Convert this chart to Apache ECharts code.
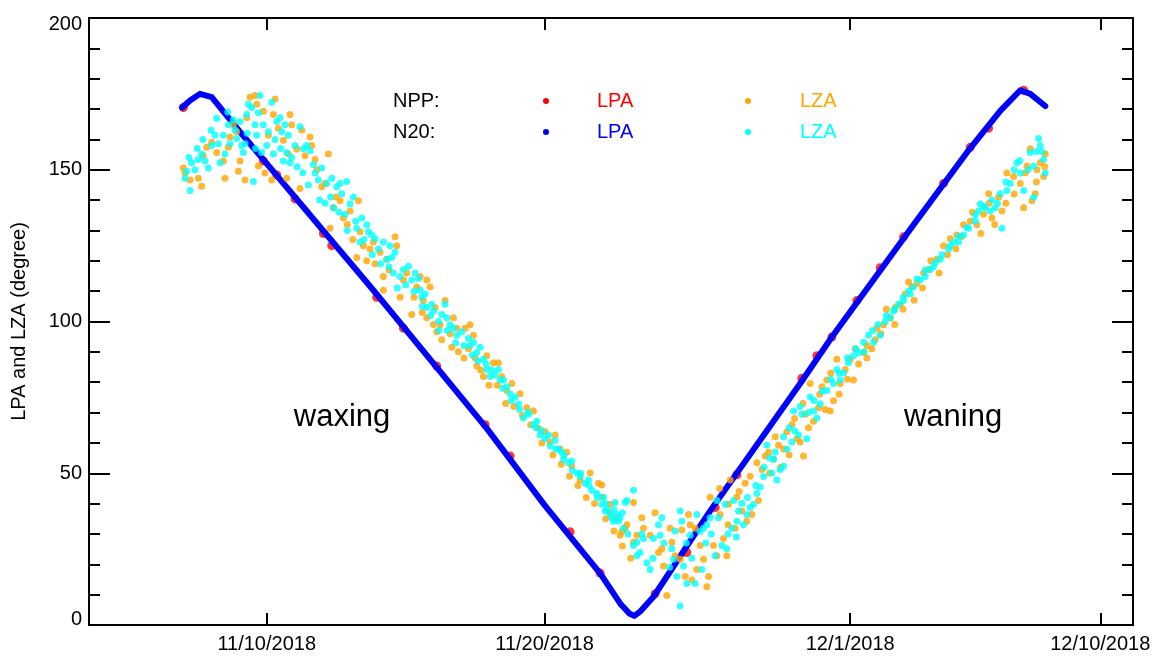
<!DOCTYPE html>
<html>
<head>
<meta charset="utf-8">
<script src="https://cdn.jsdelivr.net/npm/echarts@6/dist/echarts.min.js"></script>
<style>
html,body{margin:0;padding:0;background:#fff;}
#chart{width:1161px;height:656px;}
</style>
</head>
<body>
<div id="chart"></div>
<script>
// x values: days counted from 10/31/2018 00:00 (so 10 = 11/10/2018, 31 = 12/1/2018)
const xTickDays = [10, 20, 31, 40];
const xTickLabels = ['11/10/2018', '11/20/2018', '12/1/2018', '12/10/2018'];
const xRange = [3.605, 41.177];
const yRange = [0, 200];
const yStep = 50;
const yTitle = 'LPA and LZA (degree)';

// N20 lunar phase angle (dense track)
const n20LPA = [[6.96,170.5],[7.24,172.8],[7.6,175.0],[8.02,173.9],[8.38,169.9],[9.04,162.5],[13.84,110.3],[17.92,64.8],[20.0,39.5],[22.0,17.0],[22.72,7.1],[23.05,3.8],[23.23,3.0],[23.45,4.5],[23.92,9.3],[25.96,37.6],[29.2,79.6],[30.34,94.9],[33.28,131.9],[35.2,155.7],[36.4,169.4],[37.12,176.2],[37.48,175.0],[38.02,171.0]];

// NPP lunar phase angle
const nppLPA = [[7.0,170.5],[9.88,152.9],[10.36,148.3],[11.02,140.4],[12.04,129.0],[12.34,125.0],[13.96,108.0],[14.92,97.8],[16.12,85.3],[17.86,66.0],[18.76,55.7],[20.92,30.7],[22.0,17.1],[23.98,10.3],[25.12,23.9],[26.14,38.7],[26.92,49.5],[29.26,81.3],[29.8,88.7],[30.34,94.9],[31.24,106.9],[32.08,117.7],[32.92,127.9],[34.36,145.5],[35.32,157.4],[35.98,163.7],[37.24,176.2]];

// NPP lunar zenith angle
const nppLZA = [[7.00,150.6],[7.06,148.9],[7.24,146.6],[7.54,147.2],[7.66,144.6],[7.72,154.6],[7.84,157.4],[8.02,159.1],[8.20,155.7],[8.44,152.9],[8.50,147.2],[8.62,157.4],[8.68,160.8],[8.80,164.8],[8.92,162.5],[8.98,149.5],[9.04,152.9],[9.22,146.6],[9.28,167.1],[9.40,173.9],[9.58,174.5],[9.64,171.6],[9.70,151.2],[9.88,169.3],[9.94,148.9],[10.06,161.4],[10.18,146.6],[10.24,168.2],[10.30,173.3],[10.42,163.7],[10.60,159.7],[10.72,147.2],[10.78,155.2],[10.84,168.2],[10.90,164.8],[11.08,156.8],[11.20,143.8],[11.26,163.1],[11.38,154.6],[11.56,160.8],[11.62,158.0],[11.74,153.4],[11.80,150.0],[11.98,144.4],[12.10,145.5],[12.22,155.2],[12.28,130.7],[12.40,137.5],[12.64,139.8],[12.76,134.1],[13.00,136.4],[13.24,121.1],[13.30,139.8],[13.36,129.6],[13.48,125.0],[13.72,123.9],[13.84,126.2],[14.08,122.8],[14.20,114.8],[14.20,110.3],[14.32,120.5],[14.62,127.9],[14.68,125.0],[14.92,113.7],[15.04,116.0],[15.22,102.3],[15.40,111.4],[15.52,114.8],[15.64,106.9],[15.76,113.7],[15.76,101.2],[15.88,111.4],[16.06,104.6],[16.12,96.6],[16.24,98.9],[16.42,106.9],[16.66,91.5],[16.72,101.2],[16.84,97.8],[17.14,97.8],[17.26,91.0],[17.32,98.9],[17.44,95.5],[17.56,85.3],[17.80,81.9],[17.92,88.7],[18.16,86.4],[18.34,86.4],[18.46,81.9],[18.64,77.3],[18.82,79.6],[19.12,76.2],[19.36,71.6],[19.60,70.5],[19.78,64.8],[20.02,63.7],[20.20,60.3],[20.38,62.6],[20.56,58.0],[20.80,56.9],[20.98,52.3],[21.28,47.8],[21.64,50.1],[21.94,46.7],[22.06,42.1],[22.36,39.8],[22.60,35.3],[22.78,30.8],[22.96,33.0],[23.20,27.3],[23.32,29.6],
[12.5,141],[12.9,132],[13.1,127],[13.6,120],[13.9,119],[14.4,117],[14.8,108],[15.3,108],[15.6,103],[16.0,99],[16.3,94],[16.6,96],[16.9,90],[17.1,88],[17.5,88],[17.7,84],[18.0,79],[18.3,79],[18.6,73],[18.9,72],[19.2,69],[19.5,66],[19.9,60],[20.3,56],[20.6,53],[20.9,49],[21.2,46],[21.5,42],[21.8,40],[22.2,35],[22.5,31],[22.8,26],[23.1,22],
[22.06,46.1],[22.36,37.0],[22.72,29.6],[22.90,31.9],[23.20,40.4],[23.50,35.3],[23.56,31.9],[23.80,29.6],[23.98,37.0],[24.10,23.9],[24.22,25.1],[24.28,19.4],[24.40,9.7],[24.52,31.9],[24.58,27.3],[24.70,22.8],[24.88,21.7],[24.94,31.3],[25.06,16.0],[25.18,36.4],[25.24,33.0],[25.30,14.8],[25.42,31.9],[25.48,18.3],[25.60,26.2],[25.72,21.7],[25.84,12.6],[25.90,16.0],[25.96,42.1],[26.08,26.2],[26.20,22.8],[26.32,36.4],[26.44,28.5],[26.56,22.8],[26.62,39.8],[26.68,47.8],[26.86,31.9],[26.92,42.1],[27.10,37.6],[27.22,46.7],[27.28,34.2],[27.46,36.4],[27.64,53.5],[27.82,51.2],[27.94,55.7],[28.06,56.9],[28.24,54.6],[28.42,59.2],[28.60,58.0],[28.72,63.7],[28.90,66.0],[29.08,61.4],[29.20,60.3],[29.32,55.7],[29.38,69.4],[29.56,79.6],[29.68,67.1],[29.86,71.6],[29.98,78.5],[30.16,80.7],[30.28,70.5],[30.40,73.9],[30.52,87.6],[30.64,79.6],[30.82,84.2],[31.00,87.6],[31.12,80.7],[31.18,91.0],[31.48,89.8],[31.60,92.1],[31.78,91.0],[31.96,97.8],[32.20,98.9],[32.44,101.2],[32.62,104.6],[32.80,105.7],[32.98,109.1],[33.22,111.4],[33.40,112.5],[33.64,116.0],[33.82,117.1],[34.12,120.5],[34.36,125.0],[34.60,127.3],[34.84,128.5],[35.08,131.9],[35.32,133.0],[35.56,131.9],[35.80,135.3],[35.98,142.1],[36.10,134.1],[36.34,141.0],[36.46,136.4],[36.64,148.9],[36.88,147.8],[37.12,145.5],[37.24,137.5],[37.36,151.2],[37.48,156.9],[37.54,139.8],[37.66,142.1],[37.72,150.0],[37.84,152.3],[37.96,147.8],[38.02,155.2],
[26.3,45],[26.6,33],[27.0,44],[27.4,49],[27.7,41],[28.1,50],[28.3,62],[28.5,52],[28.8,56],[29.0,68],[29.3,73],[29.5,65],[29.9,76],[30.1,71],[30.3,83],[30.6,76],[30.9,81],[31.3,86],[31.6,88],[31.9,94],[32.1,96],[32.3,104],[32.6,99],[32.9,104],[33.1,113],[33.3,107],[33.6,111],[33.9,120],[34.2,116],[34.5,122],[34.8,124],[35.0,128],[35.4,136],[35.7,129],[36.0,139],[36.2,132],[36.6,139],[36.9,142],[37.3,149],[37.7,146],[38.0,151]];

// N20 lunar zenith angle
const n20LZA = [[7.06,147.2],[7.12,149.5],[7.24,143.2],[7.30,152.3],[7.42,150.0],[7.54,153.4],[7.66,155.2],[7.78,152.9],[7.90,150.6],[8.02,158.0],[8.14,161.4],[8.26,158.6],[8.32,152.3],[8.44,161.4],[8.50,155.2],[8.62,164.8],[8.68,158.6],[8.80,166.5],[8.86,163.1],[8.92,160.3],[9.04,165.9],[9.16,155.7],[9.22,158.6],[9.28,168.2],[9.34,171.6],[9.46,170.5],[9.52,146.1],[9.58,164.8],[9.64,161.4],[9.70,168.8],[9.76,174.5],[9.82,155.7],[9.88,164.8],[10.06,162.5],[10.18,172.2],[10.24,155.2],[10.36,165.9],[10.48,167.1],[10.54,162.5],[10.60,152.9],[10.66,164.8],[10.72,155.7],[10.78,161.4],[10.84,152.3],[11.02,158.0],[11.20,164.2],[11.32,156.9],[11.44,158.0],[11.56,156.3],[11.68,151.7],[11.74,148.9],[11.86,146.6],[11.98,150.6],[12.16,145.5],[12.34,147.2],[12.40,137.5],[12.52,144.4],[12.64,145.5],[12.70,142.1],[12.82,135.3],[12.88,146.1],[13.00,138.7],[13.12,141.0],[13.24,130.7],[13.36,126.2],[13.42,134.1],[13.60,131.9],[13.66,129.6],[13.78,128.5],[13.90,127.3],[14.02,123.9],[14.20,126.2],[14.32,120.5],[14.44,125.0],[14.50,121.1],[14.56,116.0],[14.62,122.8],[14.80,114.8],[14.92,117.1],[15.10,118.2],[15.22,113.7],[15.34,116.0],[15.46,114.2],[15.52,110.3],[15.58,108.0],[15.70,109.1],[15.76,104.6],[15.94,105.7],[16.00,103.5],[16.18,100.0],[16.30,102.3],[16.42,105.7],[16.48,101.2],[16.60,98.9],[16.72,97.8],[16.84,95.5],[17.02,96.6],[17.26,94.4],[17.32,92.1],[17.44,93.2],[17.56,89.8],[17.68,91.5],[17.80,87.6],[17.92,84.2],[18.04,81.9],[18.22,82.4],[18.34,84.2],[18.40,80.7],[18.52,80.7],[18.64,78.5],[18.76,76.2],[18.94,75.1],[19.06,72.8],[19.24,68.2],[19.42,69.4],[19.60,66.0],[19.72,67.1],[19.84,62.6],[20.02,61.4],[20.14,62.6],[20.38,60.9],[20.50,58.0],[20.62,56.9],[20.68,54.6],[20.86,53.5],[20.98,54.0],[21.16,50.1],[21.28,48.9],[21.46,46.7],[21.58,47.8],[21.70,44.4],[21.88,43.3],[22.06,39.8],[22.18,37.6],[22.36,36.4],[22.48,34.2],[22.60,36.4],[22.72,35.3],[22.90,40.4],[23.20,44.4],[23.20,26.2],[23.32,22.8],
[7.2,154],[7.5,157],[7.7,160],[8.0,163],[8.2,167],[8.6,169],[9.1,158],[9.3,162],[9.6,157],[10.0,158],[10.3,160],[10.5,157],[10.9,154],[11.1,151],[11.3,149],[11.5,145],[11.9,140],[12.1,139],[12.3,141],[12.6,136],[12.9,130],[13.2,133],[13.5,127],[13.8,122],[14.1,119],[14.4,118],[14.7,111],[15.0,112],[15.3,110],[15.6,105],[15.9,102],[16.2,97],[16.5,97],[16.8,93],[17.1,92],[17.4,89],[17.6,87],[17.9,86],[18.1,84],[18.5,78],[18.8,74],[19.1,71],[19.4,70],[19.7,65],[19.9,64],[20.2,59],[20.4,58],[20.7,56],[21.0,51],[21.3,50],[21.6,46],[21.9,42],[22.2,40],[22.5,38],[22.8,37],[23.0,30],
[22.12,42.1],[22.24,38.1],[22.42,35.3],[22.54,40.4],[22.66,34.2],[22.84,31.9],[22.96,41.0],[23.32,27.3],[23.44,23.9],[23.56,28.5],[23.68,20.5],[23.80,18.3],[23.92,28.5],[24.16,29.6],[24.22,35.3],[24.58,25.1],[24.64,21.7],[24.76,16.0],[24.88,37.6],[24.88,6.3],[24.94,34.2],[25.00,19.4],[25.12,13.7],[25.24,29.6],[25.42,13.7],[25.48,36.4],[25.60,30.8],[25.66,18.3],[25.72,31.9],[25.84,33.0],[25.96,35.3],[26.14,22.8],[26.26,35.3],[26.38,26.2],[26.50,39.8],[26.56,25.1],[26.74,31.9],[26.80,41.0],[26.92,34.2],[26.98,37.6],[27.16,33.0],[27.28,36.4],[27.40,38.7],[27.52,39.8],[27.64,43.3],[27.76,45.5],[27.88,48.9],[28.00,59.2],[28.18,50.1],[28.24,54.6],[28.36,47.8],[28.48,51.2],[28.60,52.3],[28.72,58.0],[28.90,60.3],[28.96,70.5],[29.14,62.6],[29.26,69.4],[29.44,61.4],[29.56,75.1],[29.68,70.5],[29.80,68.2],[29.92,72.8],[30.16,77.3],[30.40,79.6],[30.52,84.2],[30.64,80.7],[30.76,83.0],[30.94,86.4],[31.12,88.7],[31.30,89.8],[31.48,93.2],[31.66,95.5],[31.84,93.2],[32.08,95.5],[32.26,100.0],[32.44,101.2],[32.56,103.5],[32.74,105.7],[32.92,106.9],[33.16,109.1],[33.28,111.4],[33.52,113.7],[33.70,114.8],[33.88,117.1],[34.06,119.4],[34.24,120.5],[34.54,123.9],[34.72,126.2],[34.90,126.2],[35.08,128.5],[35.26,130.7],[35.50,133.0],[35.62,136.4],[35.68,138.7],[35.86,137.5],[36.04,136.4],[36.22,137.5],[36.46,130.7],[36.40,142.1],[36.64,143.2],[36.76,145.5],[37.00,152.3],[37.12,148.9],[37.24,143.2],[37.48,155.7],[37.60,151.2],[37.78,160.3],[37.84,158.0],[37.96,153.4],[38.02,148.9],[37.60,140.9],
[23.5,30],[23.9,22],[24.1,33],[24.3,27],[24.5,19],[24.7,31],[25.1,27],[25.3,22],[25.8,27],[26.0,30],[26.2,41],[26.6,30],[26.9,29],[27.1,40],[27.3,42],[27.6,46],[27.9,52],[28.1,55],[28.3,57],[28.6,62],[28.8,65],[29.0,64],[29.2,72],[29.5,70],[29.7,74],[30.0,77],[30.3,81],[30.6,83],[30.9,88],[31.2,91],[31.5,90],[31.8,97],[32.0,99],[32.3,102],[32.6,104],[32.9,108],[33.1,110],[33.4,114],[33.7,117],[34.0,118],[34.3,122],[34.6,125],[34.9,128],[35.2,131],[35.5,135],[35.8,138],[36.1,140],[36.3,139],[36.6,146],[36.9,150],[37.1,153],[37.4,150],[37.7,156],[37.9,156]];

const FONT = '"Liberation Sans", Arial, sans-serif';
const chart = echarts.init(document.getElementById('chart'), null, {renderer: 'canvas'});

const axisLineStyle = {color: '#000', width: 2};
const tickStyle = {color: '#000', width: 2};

const xCommon = {
  type: 'value', min: xRange[0], max: xRange[1],
  splitLine: {show: false},
  axisLine: {show: true, onZero: false, lineStyle: axisLineStyle},
  axisTick: {show: true, inside: true, length: 12, lineStyle: tickStyle, customValues: xTickDays}
};
const yCommon = {
  type: 'value', min: yRange[0], max: yRange[1], interval: yStep,
  splitLine: {show: false},
  axisLine: {show: true, onZero: false, lineStyle: axisLineStyle},
  axisTick: {show: true, inside: true, length: 21, lineStyle: tickStyle},
  minorTick: {show: true, splitNumber: 5, length: 11, lineStyle: tickStyle}
};

const option = {
  animation: false,
  backgroundColor: '#fff',
  grid: {left: 89, right: 28, top: 18, bottom: 31, containLabel: false},
  xAxis: [
    Object.assign({}, xCommon, {
      position: 'bottom',
      axisLabel: {
        show: true, customValues: xTickDays, margin: 9,
        fontFamily: FONT, fontSize: 20, color: '#000',
        formatter: v => xTickLabels[xTickDays.indexOf(v)] || ''
      }
    }),
    Object.assign({}, xCommon, {position: 'top', axisLabel: {show: false}})
  ],
  yAxis: [
    Object.assign({}, yCommon, {
      position: 'left',
      name: yTitle, nameLocation: 'middle', nameRotate: 90, nameGap: 60,
      nameTextStyle: {fontFamily: FONT, fontSize: 20, color: '#000'},
      axisLabel: {
        show: true, margin: 7, fontFamily: FONT, fontSize: 20, color: '#000',
        formatter: v => v === yRange[0] ? '{lo|' + v + '}' : (v === yRange[1] ? '{hi|' + v + '}' : String(v)),
        rich: {
          lo: {fontFamily: FONT, fontSize: 20, color: '#000', padding: [0, 0, 12, 0]},
          hi: {fontFamily: FONT, fontSize: 20, color: '#000', padding: [12, 0, 0, 0]}
        }
      }
    }),
    Object.assign({}, yCommon, {position: 'right', axisLabel: {show: false}})
  ],
  series: [
    {name: 'NPP LPA', type: 'scatter', data: nppLPA, symbol: 'circle', symbolSize: 9,
     itemStyle: {color: '#ff0000'}, z: 2},
    {name: 'N20 LPA', type: 'line', data: n20LPA, showSymbol: false, symbol: 'none',
     lineStyle: {color: '#0000ff', width: 6, cap: 'round', join: 'round'}, z: 3},
    {name: 'NPP LZA', type: 'scatter', data: nppLZA, symbol: 'circle', symbolSize: 7,
     itemStyle: {color: '#ffa500'}, z: 4},
    {name: 'N20 LZA', type: 'scatter', data: n20LZA, symbol: 'circle', symbolSize: 7,
     itemStyle: {color: '#00ffff'}, z: 5}
  ],
  graphic: [
    {type: 'text', x: 393, y: 101, style: {text: 'NPP:', font: '20px ' + FONT, fill: '#000', align: 'left', verticalAlign: 'middle'}},
    {type: 'text', x: 393, y: 132, style: {text: 'N20:', font: '20px ' + FONT, fill: '#000', align: 'left', verticalAlign: 'middle'}},
    {type: 'circle', shape: {cx: 546, cy: 101, r: 3}, style: {fill: '#ff0000'}},
    {type: 'circle', shape: {cx: 546, cy: 132, r: 3}, style: {fill: '#0000ff'}},
    {type: 'text', x: 597, y: 101, style: {text: 'LPA', font: '20px ' + FONT, fill: '#ff0000', align: 'left', verticalAlign: 'middle'}},
    {type: 'text', x: 597, y: 132, style: {text: 'LPA', font: '20px ' + FONT, fill: '#0000ff', align: 'left', verticalAlign: 'middle'}},
    {type: 'circle', shape: {cx: 748, cy: 101, r: 3}, style: {fill: '#ffa500'}},
    {type: 'circle', shape: {cx: 748, cy: 132, r: 3}, style: {fill: '#00ffff'}},
    {type: 'text', x: 800, y: 101, style: {text: 'LZA', font: '20px ' + FONT, fill: '#ffa500', align: 'left', verticalAlign: 'middle'}},
    {type: 'text', x: 800, y: 132, style: {text: 'LZA', font: '20px ' + FONT, fill: '#00ffff', align: 'left', verticalAlign: 'middle'}},
    {type: 'text', x: 342, y: 417, style: {text: 'waxing', font: '31px ' + FONT, fill: '#000', align: 'center', verticalAlign: 'middle'}},
    {type: 'text', x: 953, y: 417, style: {text: 'waning', font: '31px ' + FONT, fill: '#000', align: 'center', verticalAlign: 'middle'}}
  ]
};
chart.setOption(option);
</script>
</body>
</html>
